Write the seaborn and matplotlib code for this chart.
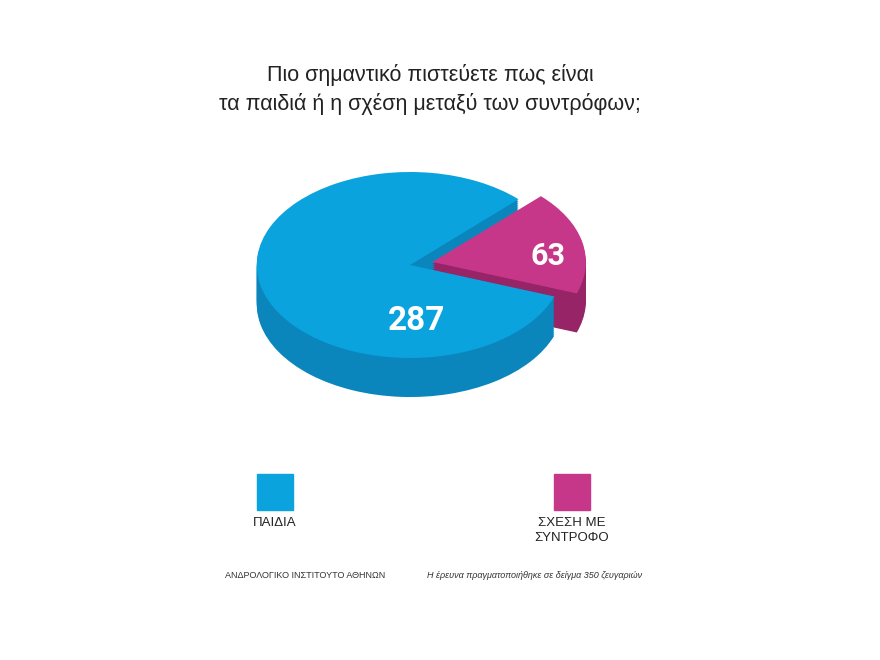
import matplotlib
matplotlib.use("Agg")
import matplotlib.pyplot as plt
import seaborn as sns
import numpy as np

sns.set_theme(style="white")
plt.rcParams['font.family'] = ['Liberation Sans', 'DejaVu Sans']

categories = ["ΠΑΙΔΙΑ", "ΣΧΕΣΗ ΜΕ\nΣΥΝΤΡΟΦΟ"]
values = [287, 63]
top_colors = ["#0aa3de", "#c6378a"]
side_colors = ["#0a86bd", "#962466"]

fig = plt.figure(figsize=(8.8, 6.6), dpi=100)
fig.patch.set_facecolor("white")
ax = fig.add_axes([200/880, 240/660, 460/880, 280/660])

depth = 0.42
n = 20
explode = [0, 0.15]
for i in range(n, 0, -1):
    off = -depth * i / n
    ax.pie(values, colors=side_colors, startangle=45, explode=explode,
           center=(0, off), radius=1, wedgeprops=dict(linewidth=0))
wedges, _ = ax.pie(values, colors=top_colors, startangle=45, explode=explode,
                   center=(0, 0), radius=1, wedgeprops=dict(linewidth=0))
ax.set_aspect('auto')
ax.set_xlim(-1.37, 1.63)
ax.set_ylim(-1.667, 1.344)
ax.axis('off')

ax.text(0.04, -0.6, str(values[0]), color="white", fontsize=24, fontweight="bold",
        ha="center", va="center", family=["Roboto", "DejaVu Sans"])
ax.text(0.90, 0.1, str(values[1]), color="white", fontsize=22, fontweight="bold",
        ha="center", va="center", family=["Roboto", "DejaVu Sans"])

fig.text(430/880, 1-75/660, "Πιο σημαντικό πιστεύετε πως είναι", ha="center", va="center", fontsize=15.5, color="#222222")
fig.text(430/880, 1-104/660, "τα παιδιά ή η σχέση μεταξύ των συντρόφων;", ha="center", va="center", fontsize=15.5, color="#222222")

# legend
for cx, col, lab in [(275, top_colors[0], categories[0]), (572, top_colors[1], categories[1])]:
    fig.patches.append(plt.Rectangle(((cx-18)/880, 1-510/660), 36/880, 36/660,
                                     transform=fig.transFigure, color=col))
    fig.text(cx/880, 1-517/660, lab, ha="center", va="top", fontsize=9.5,
             color="#222222", linespacing=1.3)

fig.text(305/880, 1-575/660, "ΑΝΔΡΟΛΟΓΙΚΟ ΙΝΣΤΙΤΟΥΤΟ ΑΘΗΝΩΝ", ha="center", va="center",
         fontsize=6.5, color="#333333")
fig.text(535/880, 1-575/660, "Η έρευνα πραγματοποιήθηκε σε δείγμα 350 ζευγαριών", ha="center",
         va="center", fontsize=6.5, style="italic", color="#333333")

fig.savefig("out.png", dpi=100)
